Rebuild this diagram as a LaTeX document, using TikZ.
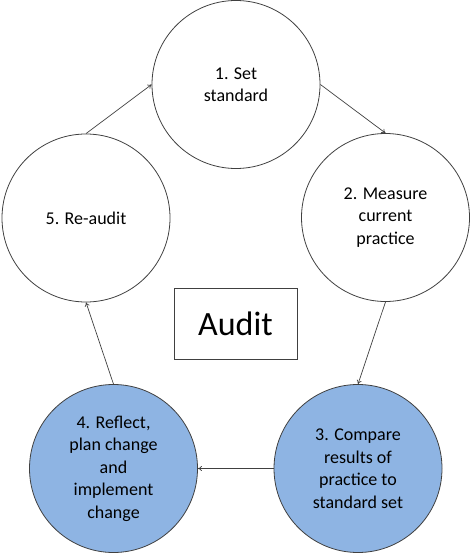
\documentclass[tikz,border=0pt]{standalone}
\usepackage{fontspec}
\setmainfont{Carlito}
\usetikzlibrary{arrows.meta}
\definecolor{stepblue}{RGB}{142,180,227}
\definecolor{edgegray}{RGB}{64,64,64}
\tikzset{
  stage/.style={circle, draw=edgegray, line width=0.8pt, minimum size=168pt, inner sep=0pt,
    align=center, font=\fontsize{18}{22.5}\selectfont, text=black},
  bluestage/.style={stage, fill=stepblue},
  flow/.style={draw=edgegray, line width=0.7pt, -{To[length=4pt,width=5pt]}},
  titlebox/.style={draw=edgegray, line width=0.9pt, minimum width=123pt, minimum height=71pt,
    font=\fontsize{34}{40}\selectfont}
}
\begin{document}
\begin{tikzpicture}[x=1pt,y=-1pt]
\useasboundingbox (0,0) rectangle (472,553);
\node[stage] (s1) at (236,84.5) {1. Set\\standard};
\node[stage] (s2) at (385.5,217.5) {2. Measure\\current\\practice};
\node[bluestage] (s3) at (358,468.5) {3. Compare\\results of\\practice to\\standard set};
\node[bluestage] (s4) at (113.5,468.5) {4. Reflect,\\plan change\\and\\implement\\change};
\node[stage] (s5) at (86,218) {5. Re-audit};
\node[titlebox] (audit) at (235.5,323.5) {Audit};
\draw[flow] (s1.east) -- (s2.north);
\draw[flow] (s2.south) -- (s3.north);
\draw[flow] (s3.west) -- (s4.east);
\draw[flow] (s4.north) -- (s5.south);
\draw[flow] (s5.north) -- (s1.west);
\end{tikzpicture}
\end{document}
